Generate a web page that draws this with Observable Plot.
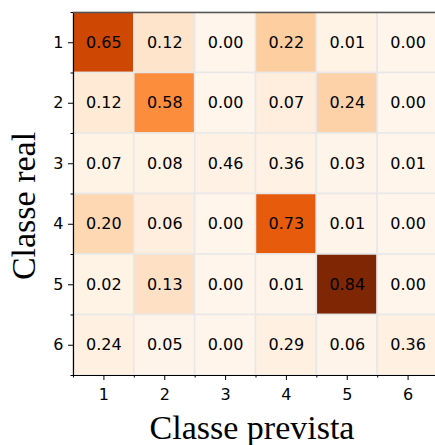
<!DOCTYPE html>
<html><head><meta charset="utf-8">
<script src="https://cdn.jsdelivr.net/npm/d3@7"></script>
<script src="https://cdn.jsdelivr.net/npm/@observablehq/plot@0.6"></script>
<style>
html,body{margin:0;padding:0;background:#fff;overflow:hidden}
svg{max-width:none !important;display:block}
</style>
</head><body><div id="chart"></div>
<script>
const classes = [1, 2, 3, 4, 5, 6];
const boundaries = [0.5, 1.5, 2.5, 3.5, 4.5, 5.5, 6.5];
const xLabel = "Classe prevista";
const yLabel = "Classe real";

// Normalised values shown in the cells (row = classe real)
const values1 = [0.65, 0.12, 0.00, 0.22, 0.01, 0.00];
const values2 = [0.12, 0.58, 0.00, 0.07, 0.24, 0.00];
const values3 = [0.07, 0.08, 0.46, 0.36, 0.03, 0.01];
const values4 = [0.20, 0.06, 0.00, 0.73, 0.01, 0.00];
const values5 = [0.02, 0.13, 0.00, 0.01, 0.84, 0.00];
const values6 = [0.24, 0.05, 0.00, 0.29, 0.06, 0.36];

// Colour intensity of each cell (estimated, relative counts, max = 100)
const shade1 = [77, 13, 0, 25, 2, 0];
const shade2 = [9, 50, 0, 6, 23, 0];
const shade3 = [2, 2, 3, 3, 1, 0];
const shade4 = [20, 6, 0, 68, 1, 0];
const shade5 = [2, 15, 0, 1, 100, 0];
const shade6 = [4, 1, 0, 4, 1, 4];

const valueRows = [values1, values2, values3, values4, values5, values6];
const shadeRows = [shade1, shade2, shade3, shade4, shade5, shade6];

const data = [];
valueRows.forEach((row, i) => row.forEach((v, j) => {
  data.push({real: classes[i], prevista: classes[j], value: v, shade: shadeRows[i][j]});
}));

const chart = Plot.plot({
  width: 438,
  height: 445,
  marginLeft: 73,
  marginRight: 0,
  marginTop: 12,
  marginBottom: 70,
  style: {fontFamily: "DejaVu Sans", fontSize: "16px", background: "white", overflow: "visible"},
  x: {domain: [0.5, 6.5], axis: null},
  y: {domain: [6.5, 0.5], axis: null},
  color: {type: "linear", scheme: "oranges", domain: [0, 100]},
  marks: [
    Plot.rect(data, {
      x1: d => d.prevista - 0.5, x2: d => d.prevista + 0.5,
      y1: d => d.real - 0.5, y2: d => d.real + 0.5,
      fill: "shade", stroke: "#e8e8e8", strokeWidth: 1.5
    }),
    Plot.text(data, {x: "prevista", y: "real", text: d => d.value.toFixed(2), fontSize: 16, fill: "black"}),
    Plot.axisX(classes, {tickSize: 5, tickPadding: 8, tickFormat: "d", label: null, fontSize: 16, stroke: "black", fill: "black"}),
    Plot.axisX(boundaries, {tickSize: 2.5, tickFormat: () => "", label: null, stroke: "black"}),
    Plot.axisY(classes, {tickSize: 5, tickPadding: 5, tickFormat: "d", label: null, fontSize: 16, stroke: "black", fill: "black"}),
    Plot.axisY(boundaries, {tickSize: 2.5, tickFormat: () => "", label: null, stroke: "black"}),
    Plot.ruleX([0.5], {stroke: "black", strokeWidth: 1.2}),
    Plot.ruleY([6.5], {stroke: "black", strokeWidth: 1.2}),
    Plot.ruleY([0.5], {stroke: "#555", strokeWidth: 1.5}),
    Plot.text([xLabel], {text: d => d, frameAnchor: "bottom", textAnchor: "middle", dy: 63, dx: -4, fontSize: 34, fontFamily: "Liberation Serif", fill: "black"}),
    Plot.text([yLabel], {text: d => d, frameAnchor: "left", textAnchor: "middle", lineAnchor: "middle", rotate: -90, dx: -49, dy: 12, fontSize: 34, fontFamily: "Liberation Serif", fill: "black"})
  ]
});
document.getElementById("chart").appendChild(chart);
</script>
</body></html>
